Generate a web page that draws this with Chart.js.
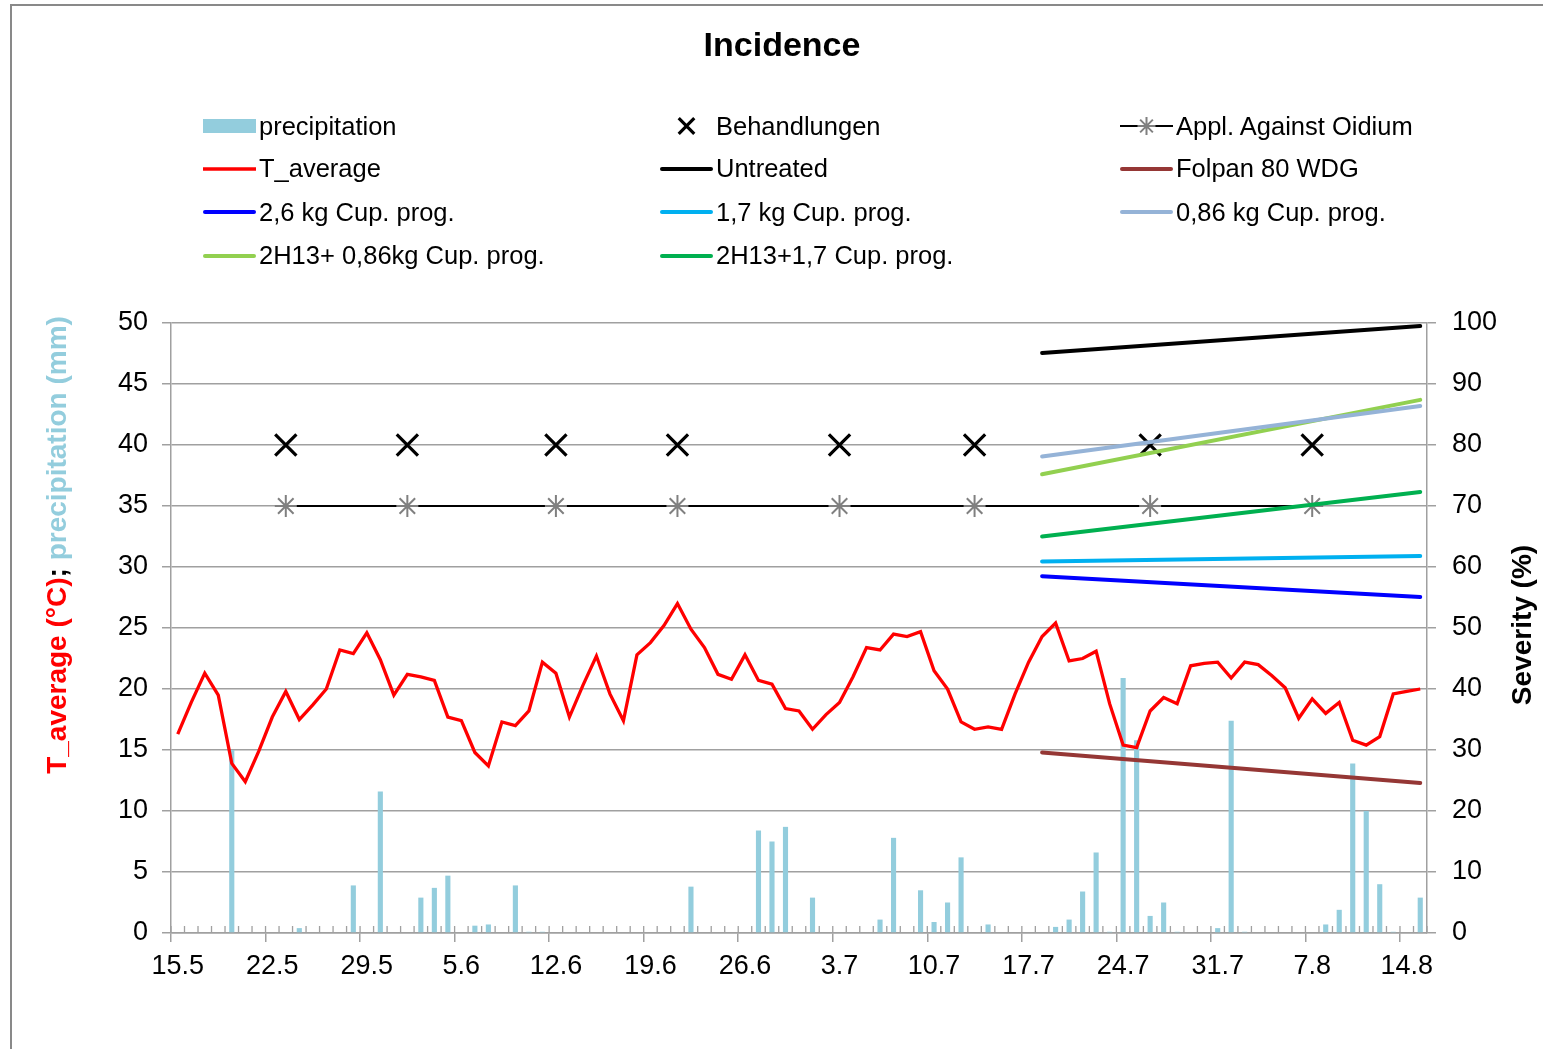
<!DOCTYPE html>
<html>
<head>
<meta charset="utf-8">
<title>Incidence</title>
<script src="https://cdn.jsdelivr.net/npm/chart.js@4.4.1/dist/chart.umd.min.js"></script>
<style>
  html, body { margin: 0; padding: 0; background: #fff; overflow: hidden; }
  #wrap { position: relative; width: 1543px; height: 1049px; }
  #c { position: absolute; left: 0; top: 0; }
  #frame { position: absolute; left: 10px; top: 4px; width: 1600px; height: 1100px;
           border-left: 2px solid #898989; border-top: 2px solid #898989; pointer-events: none; }
  #legend { position: absolute; left: 0; top: 0; font-family: 'Liberation Sans', Arial, sans-serif;
            font-size: 25.5px; color: #000; }
  .item { position: absolute; height: 30px; display: flex; align-items: center; white-space: nowrap; }
  .item canvas { display: block; margin-right: 3px; }
</style>
</head>
<body>
<div id="wrap">
  <canvas id="c" width="1543" height="1049"></canvas>
  <div id="legend"></div>
  <div id="frame"></div>
</div>
<script>
// Daily dates, 15 May - 15 August
const categories = [
  '15.5','16.5','17.5','18.5','19.5','20.5','21.5','22.5','23.5','24.5','25.5','26.5','27.5','28.5','29.5','30.5','31.5',
  '1.6','2.6','3.6','4.6','5.6','6.6','7.6','8.6','9.6','10.6','11.6','12.6','13.6','14.6','15.6','16.6','17.6','18.6','19.6','20.6',
  '21.6','22.6','23.6','24.6','25.6','26.6','27.6','28.6','29.6','30.6',
  '1.7','2.7','3.7','4.7','5.7','6.7','7.7','8.7','9.7','10.7','11.7','12.7','13.7','14.7','15.7','16.7','17.7','18.7','19.7','20.7',
  '21.7','22.7','23.7','24.7','25.7','26.7','27.7','28.7','29.7','30.7','31.7',
  '1.8','2.8','3.8','4.8','5.8','6.8','7.8','8.8','9.8','10.8','11.8','12.8','13.8','14.8','15.8'
];

// Dates labelled on the x axis (weekly)
const xTickLabels = ['15.5','22.5','29.5','5.6','12.6','19.6','26.6','3.7','10.7','17.7','24.7','31.7','7.8','14.8'];

// Daily precipitation (mm)
const precipitation = [
  0, 0, 0, 0, 15.0, 0, 0, 0, 0, 0.4,
  0, 0, 0, 3.9, 0, 11.6, 0, 0, 2.9, 3.7,
  4.7, 0, 0.6, 0.7, 0, 3.9, 0.1, 0.1, 0, 0,
  0, 0, 0, 0, 0, 0, 0, 0, 3.8, 0,
  0, 0, 0, 8.4, 7.5, 8.7, 0, 2.9, 0, 0,
  0, 0, 1.1, 7.8, 0, 3.5, 0.9, 2.5, 6.2, 0,
  0.7, 0, 0, 0, 0, 0.5, 1.1, 3.4, 6.6, 0.1,
  20.9, 15.8, 1.4, 2.5, 0.1, 0, 0, 0.4, 17.4, 0.1,
  0, 0, 0, 0, 0, 0.7, 1.9, 13.9, 10.0, 4.0,
  0.1, 0, 2.9
];

// Daily mean air temperature (°C)
const tAverage = [
  16.3, 18.9, 21.3, 19.5, 13.9, 12.4, 14.9, 17.7, 19.8, 17.5,
  18.7, 20.0, 23.2, 22.9, 24.6, 22.4, 19.5, 21.2, 21.0, 20.7,
  17.7, 17.4, 14.8, 13.7, 17.3, 17.0, 18.2, 22.2, 21.3, 17.7,
  20.3, 22.7, 19.6, 17.4, 22.8, 23.8, 25.2, 27.0, 24.9, 23.4,
  21.2, 20.8, 22.8, 20.7, 20.4, 18.4, 18.2, 16.7, 17.9, 18.9,
  21.0, 23.4, 23.2, 24.5, 24.3, 24.7, 21.5, 20.0, 17.3, 16.7,
  16.9, 16.7, 19.6, 22.2, 24.3, 25.4, 22.3, 22.5, 23.1, 18.8,
  15.4, 15.2, 18.2, 19.3, 18.8, 21.9, 22.1, 22.2, 20.9, 22.2,
  22.0, 21.1, 20.1, 17.6, 19.2, 18.0, 18.9, 15.8, 15.4, 16.1,
  19.6, 19.8, 20.0
];

// Spray dates; marker levels on the left axis
const treatmentDates = ['23.5','1.6','12.6','21.6','3.7','13.7','26.7','7.8'];
const behandlungenLevel = 40;
const oidiumLevel = 35;

// Severity assessments (%)
const assessmentDates = ['18.7', '15.8'];
const sevUntreated = [95.1, 99.5];
const sevFolpan = [29.6, 24.6];
const sevCup26 = [58.5, 55.1];
const sevCup17 = [60.9, 61.8];
const sevCup086 = [78.1, 86.4];
const sevH13Cup086 = [75.2, 87.4];
const sevH13Cup17 = [65.0, 72.3];

const FONT = "'Liberation Sans', Arial, sans-serif";
const GRID = '#a0a0a0';

const pairs = (dates, vals) => dates.map((d, i) => ({ x: d, y: vals[i] }));
const level = (dates, v) => dates.map(d => ({ x: d, y: v }));

function severity(label, values, color, order) {
  return {
    type: 'line', label, data: pairs(assessmentDates, values), yAxisID: 'y2',
    borderColor: color, backgroundColor: color, borderWidth: 4, borderCapStyle: 'round',
    pointRadius: 0, order
  };
}

const datasets = [
  { type: 'bar', label: 'precipitation', data: precipitation, yAxisID: 'y',
    backgroundColor: '#93cddd', barPercentage: 0.38, categoryPercentage: 1.0, order: 20 },
  { type: 'line', label: 'Behandlungen', data: level(treatmentDates, behandlungenLevel), yAxisID: 'y',
    showLine: false, pointStyle: 'crossRot', pointRadius: 15, pointBorderWidth: 3.2,
    pointBorderColor: '#000', borderColor: '#000', order: 12 },
  { type: 'line', label: 'Appl. Against Oidium', data: level(treatmentDates, oidiumLevel), yAxisID: 'y',
    borderColor: '#000', borderWidth: 2, pointStyle: 'star', pointRadius: 11,
    pointBorderWidth: 2, pointBorderColor: '#808080', order: 13 },
  { type: 'line', label: 'T_average', data: tAverage, yAxisID: 'y',
    borderColor: '#ff0000', backgroundColor: '#ff0000', borderWidth: 3.3, pointRadius: 0, order: 11 },
  severity('Untreated', sevUntreated, '#000000', 1),
  severity('Folpan 80 WDG', sevFolpan, '#953735', 2),
  severity('2,6 kg Cup. prog.', sevCup26, '#0000ff', 3),
  severity('1,7 kg Cup. prog.', sevCup17, '#00b0f0', 4),
  severity('0,86 kg Cup. prog.', sevCup086, '#95b3d7', 5),
  severity('2H13+ 0,86kg Cup. prog.', sevH13Cup086, '#92d050', 6),
  severity('2H13+1,7 Cup. prog.', sevH13Cup17, '#00b050', 7)
];

// Short inward tick marks at every day boundary on the x axis
const minorTicks = {
  id: 'minorTicks',
  beforeDatasetsDraw(chart) {
    const xs = chart.scales.x, ctx = chart.ctx;
    const half = (xs.getPixelForValue(1) - xs.getPixelForValue(0)) / 2;
    ctx.save();
    ctx.strokeStyle = GRID;
    ctx.lineWidth = 1.3;
    ctx.beginPath();
    for (let i = 0; i <= categories.length; i++) {
      const px = xs.getPixelForValue(i) - half;
      ctx.moveTo(px, xs.top);
      ctx.lineTo(px, xs.top - 7);
    }
    ctx.stroke();
    ctx.restore();
  }
};

// Vertical axis titles (left one is two-coloured)
const axisTitles = {
  id: 'axisTitles',
  afterDraw(chart) {
    const ctx = chart.ctx;
    ctx.save();
    ctx.font = `bold 28px ${FONT}`;
    ctx.textBaseline = 'middle';
    ctx.textAlign = 'left';
    const parts = [['T_average (°C)', '#ff0000'], [';', '#000000'], [' precipitation (mm)', '#93cddd']];
    const total = parts.reduce((s, p) => s + ctx.measureText(p[0]).width, 0);
    ctx.translate(58, 545);
    ctx.rotate(-Math.PI / 2);
    let x = -total / 2;
    for (const [t, c] of parts) {
      ctx.fillStyle = c;
      ctx.fillText(t, x, 0);
      x += ctx.measureText(t).width;
    }
    ctx.restore();

    ctx.save();
    ctx.font = `bold 28px ${FONT}`;
    ctx.textBaseline = 'middle';
    ctx.textAlign = 'center';
    ctx.fillStyle = '#000';
    ctx.translate(1523, 625);
    ctx.rotate(-Math.PI / 2);
    ctx.fillText('Severity (%)', 0, 0);
    ctx.restore();
  }
};

Chart.defaults.font.family = FONT;
Chart.defaults.color = '#000';

const chart = new Chart(document.getElementById('c'), {
  type: 'bar',
  data: { labels: categories, datasets },
  options: {
    responsive: false,
    animation: false,
    devicePixelRatio: 1,
    layout: { padding: { left: 21, right: 0, top: 0, bottom: 0 } },
    plugins: {
      legend: { display: false },
      tooltip: { enabled: false },
      title: {
        display: true, text: 'Incidence', color: '#000',
        font: { size: 34, weight: 'bold' },
        padding: { top: 26.6, bottom: 255.6 }
      }
    },
    scales: {
      x: {
        type: 'category', offset: true,
        grid: {
          offset: true, drawOnChartArea: false, drawTicks: true, tickLength: 9, lineWidth: 1.5,
          color: ctx => (ctx.index !== undefined && ctx.index % 7 === 0) ? GRID : 'rgba(0,0,0,0)'
        },
        border: { color: GRID, width: 1.5 },
        ticks: {
          autoSkip: false, maxRotation: 0, minRotation: 0, padding: 8,
          font: { size: 27 }, color: '#000',
          callback: (v, i) => xTickLabels.includes(categories[i]) ? categories[i] : ''
        },
        afterFit: s => { s.height = 116; }
      },
      y: {
        position: 'left', min: 0, max: 50,
        ticks: { stepSize: 5, padding: 14, font: { size: 27 }, color: '#000' },
        grid: { color: GRID, lineWidth: 1.5, tickLength: 9 },
        border: { color: GRID, width: 1.5 },
        afterFit: s => { s.width = 150; }
      },
      y2: {
        position: 'right', min: 0, max: 100,
        ticks: { stepSize: 10, padding: 16, font: { size: 27 }, color: '#000' },
        grid: { drawOnChartArea: false, color: GRID, lineWidth: 1.5, tickLength: 9 },
        border: { color: GRID, width: 1.5 },
        afterFit: s => { s.width = 116; }
      }
    }
  },
  plugins: [minorTicks, axisTitles]
});

// Legend: three columns, filled row by row from the dataset list
function drawMarker(ctx, style, x, y, r, color, lw) {
  ctx.save();
  ctx.strokeStyle = color;
  ctx.lineWidth = lw;
  ctx.beginPath();
  const d = r * Math.SQRT1_2;
  ctx.moveTo(x - d, y - d); ctx.lineTo(x + d, y + d);
  ctx.moveTo(x - d, y + d); ctx.lineTo(x + d, y - d);
  if (style === 'star') {
    ctx.moveTo(x, y - r); ctx.lineTo(x, y + r);
    ctx.moveTo(x - r, y); ctx.lineTo(x + r, y);
  }
  ctx.stroke();
  ctx.restore();
}

function buildLegend(chart) {
  const box = document.getElementById('legend');
  const cols = [203, 660, 1120];
  const rows = [126, 168.5, 212, 255.5];
  const W = 53, H = 30;
  chart.data.datasets.forEach((ds, i) => {
    const item = document.createElement('div');
    item.className = 'item';
    item.style.left = cols[i % 3] + 'px';
    item.style.top = (rows[Math.floor(i / 3)] - H / 2) + 'px';
    const cv = document.createElement('canvas');
    cv.width = W; cv.height = H;
    const c = cv.getContext('2d');
    const cy = H / 2;
    if (ds.type === 'bar') {
      c.fillStyle = ds.backgroundColor;
      c.fillRect(0, cy - 7, W, 14);
    } else {
      if (ds.showLine !== false) {
        c.strokeStyle = ds.borderColor;
        c.lineWidth = ds.borderWidth;
        c.lineCap = ds.borderCapStyle === 'round' ? 'round' : 'butt';
        c.beginPath();
        c.moveTo(ds.borderCapStyle === 'round' ? 2 : 0, cy);
        c.lineTo(ds.borderCapStyle === 'round' ? W - 2 : W, cy);
        c.stroke();
      }
      if (ds.pointRadius) {
        drawMarker(c, ds.pointStyle, W / 2, cy, ds.pointStyle === 'star' ? 9 : 11,
                   ds.pointBorderColor, ds.pointBorderWidth);
      }
    }
    const label = document.createElement('span');
    label.textContent = ds.label;
    item.appendChild(cv);
    item.appendChild(label);
    box.appendChild(item);
  });
}
buildLegend(chart);
</script>
</body>
</html>
